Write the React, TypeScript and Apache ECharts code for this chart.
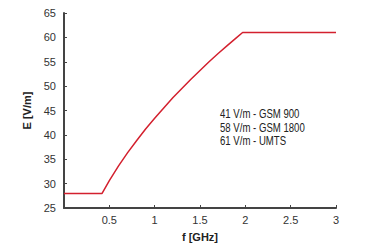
import React, { useEffect, useRef } from "react";
import * as echarts from "echarts";

const freqGHz = [0, 0.42, 0.5, 0.6, 0.7, 0.8, 0.9, 1.0, 1.1, 1.2, 1.3, 1.4, 1.5, 1.6, 1.7, 1.8, 1.9, 1.97, 3.0];
const fieldVm = [28, 28, 30.6, 33.6, 36.3, 38.8, 41.2, 43.4, 45.5, 47.6, 49.5, 51.4, 53.2, 55.0, 56.7, 58.3, 59.9, 61, 61];
const noteLines = ["41 V/m - GSM 900", "58 V/m - GSM 1800", "61 V/m - UMTS"];

const FONT = "'Liberation Sans Narrow', 'Liberation Sans', Arial, sans-serif";

export default function App() {
  const ref = useRef<HTMLDivElement>(null);
  useEffect(() => {
    if (!ref.current) return;
    const chart = echarts.init(ref.current, undefined, { renderer: "svg" });
    chart.setOption({
      animation: false,
      backgroundColor: "#ffffff",
      grid: { left: 64, right: 36, top: 13, bottom: 33 },
      xAxis: {
        type: "value",
        min: 0,
        max: 3,
        interval: 0.5,
        name: "f [GHz]",
        nameLocation: "middle",
        nameGap: 23,
        nameTextStyle: { fontFamily: FONT, fontSize: 11, fontWeight: "bold", color: "#222" },
        axisLine: { show: true, lineStyle: { color: "#444", width: 2 } },
        axisTick: { show: true, inside: true, length: 3, lineStyle: { color: "#444", width: 1 } },
        splitLine: { show: false },
        axisLabel: {
          fontFamily: FONT,
          fontSize: 11,
          color: "#333",
          margin: 6,
          formatter: (v: number) => (v === 0 ? "" : String(v)),
        },
      },
      yAxis: {
        type: "value",
        min: 25,
        max: 65,
        interval: 5,
        name: "E [V/m]",
        nameLocation: "middle",
        nameGap: 28,
        nameRotate: 90,
        nameTextStyle: { fontFamily: FONT, fontSize: 11, fontWeight: "bold", color: "#222" },
        axisLine: { show: true, lineStyle: { color: "#444", width: 2 } },
        axisTick: { show: true, inside: true, length: 3, lineStyle: { color: "#444", width: 1 } },
        splitLine: { show: false },
        axisLabel: { fontFamily: FONT, fontSize: 11, color: "#333", margin: 8 },
      },
      series: [
        {
          type: "line",
          data: freqGHz.map((f, i) => [f, fieldVm[i]]),
          symbol: "none",
          smooth: false,
          lineStyle: { color: "#d3202e", width: 1.5 },
        },
      ],
      graphic: noteLines.map((t, i) => ({
        type: "text",
        x: 220,
        y: 108 + i * 13.5,
        scaleX: 0.8,
        style: { text: t, fontFamily: FONT, fontSize: 12, fill: "#222" },
      })),
    });
    return () => chart.dispose();
  }, []);
  return <div ref={ref} style={{ position: "fixed", left: 0, top: 0, width: 372, height: 247 }} />;
}
